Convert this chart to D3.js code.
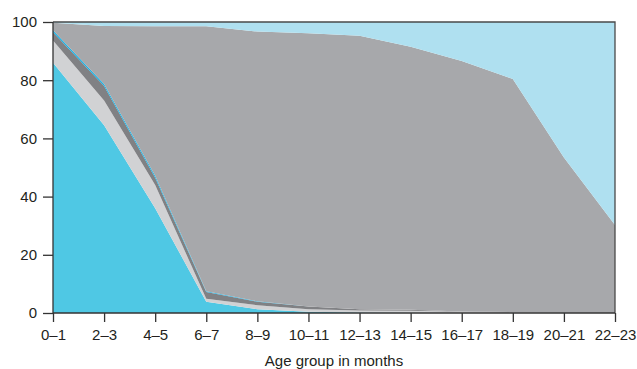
<!DOCTYPE html>
<html>
<head>
<meta charset="utf-8">
<script src="https://cdn.jsdelivr.net/npm/d3@7"></script>
<style>
  html, body { margin: 0; padding: 0; background: #fff; }
  svg { display: block; font-family: "Liberation Sans", Arial, sans-serif; }
</style>
</head>
<body>
<svg id="chart" width="637" height="369"></svg>
<script>
// Age groups (months)
const categories = ["0–1","2–3","4–5","6–7","8–9","10–11","12–13","14–15","16–17","18–19","20–21","22–23"];

// Series values (% of infants), stacked bottom to top
const exclusivelyBreastfed   = [86, 64.5, 36, 3.9, 1.3, 0.4, 0.2, 0.1, 0, 0, 0, 0];
const breastfedPlainWater    = [7.6, 8.5, 8, 1.0, 1.4, 0.9, 0.7, 0.7, 0.4, 0.2, 0, 0];
const breastfedNonMilkLiquid = [2.9, 5, 2.5, 2.3, 1.2, 0.9, 0.4, 0.3, 0.1, 0.1, 0.1, 0];
const breastfedOtherMilk     = [0.7, 0.7, 0.7, 0.3, 0.1, 0, 0, 0, 0, 0, 0, 0];
const breastfedComplementary = [2.5, 19.9, 51.3, 91, 92.7, 93.9, 94, 90.4, 86.1, 80.1, 53.3, 30.2];
const notBreastfed           = [0.3, 1.4, 1.5, 1.5, 3.3, 3.9, 4.7, 8.5, 13.4, 19.6, 46.6, 69.8];

const yTicks = [0, 20, 40, 60, 80, 100];
const xTitle = "Age group in months";

const seriesKeys = ["ebf","water","nonmilk","othermilk","comp","notbf"];
const seriesArrays = [exclusivelyBreastfed, breastfedPlainWater, breastfedNonMilkLiquid, breastfedOtherMilk, breastfedComplementary, notBreastfed];
const colors = ["#4fc8e4", "#d1d2d4", "#808184", "#1fb0e2", "#a7a8ab", "#afe0f0"];

const table = categories.map((c, i) => {
  const row = { cat: c };
  seriesKeys.forEach((k, j) => row[k] = seriesArrays[j][i]);
  return row;
});

const margin = { left: 53, right: 22, top: 22, bottom: 56 };
const width = 637, height = 369;
const svg = d3.select("#chart");

const x = d3.scalePoint().domain(categories).range([margin.left, width - margin.right]);
const y = d3.scaleLinear().domain([0, 100]).range([height - margin.bottom, margin.top]);

const stacked = d3.stack().keys(seriesKeys)(table);
const area = d3.area()
  .x(d => x(d.data.cat))
  .y0(d => y(d[0]))
  .y1(d => y(Math.min(100, d[1])));

svg.append("g").selectAll("path")
  .data(stacked)
  .join("path")
  .attr("d", area)
  .attr("fill", (d, i) => colors[i]);

// frame (top and right)
svg.append("path")
  .attr("d", `M${x(categories[0])},${y(100)}H${x(categories[categories.length-1])}V${y(0)}`)
  .attr("fill", "none")
  .attr("stroke", "#4a4a4a")
  .attr("stroke-width", 1.3);

// y axis
const yAxis = svg.append("g")
  .attr("transform", `translate(${margin.left},0)`)
  .call(d3.axisLeft(y).tickValues(yTicks).tickSize(10).tickPadding(6));
// x axis
const xAxis = svg.append("g")
  .attr("transform", `translate(0,${y(0)})`)
  .call(d3.axisBottom(x).tickSize(9).tickPadding(7));

[yAxis, xAxis].forEach(g => {
  g.select(".domain").attr("stroke", "#333").attr("stroke-width", 1.3);
  g.selectAll(".tick line").attr("stroke", "#333").attr("stroke-width", 1.3);
  g.selectAll(".tick text").attr("fill", "#231f20").style("font-size", "15px")
    .style("font-family", "'Liberation Sans', Arial, sans-serif");
});
xAxis.select(".domain").attr("d", `M${x(categories[0])},0H${x(categories[categories.length-1])}`);
yAxis.select(".domain").attr("d", `M0,${y(0)}V${y(100)}`);

svg.append("text")
  .attr("x", (x(categories[0]) + x(categories[categories.length-1])) / 2)
  .attr("y", 366)
  .attr("text-anchor", "middle")
  .attr("fill", "#231f20")
  .style("font-size", "15px")
  .text(xTitle);
</script>
</body>
</html>
